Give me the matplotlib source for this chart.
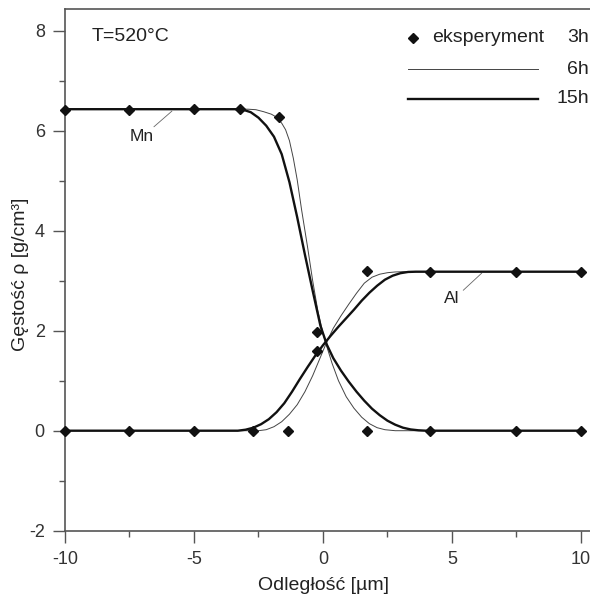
import matplotlib
matplotlib.use("Agg")
import matplotlib.pyplot as plt
from matplotlib.lines import Line2D

plt.rcParams['font.family'] = ['Liberation Sans', 'DejaVu Sans']

# experimental points (3h)
mn_exp_x = [-10, -7.5, -5, -3.2, -1.7, -0.25, 1.7, 4.15, 7.5, 10]
mn_exp_y = [6.42, 6.42, 6.43, 6.43, 6.27, 1.97, 0.0, 0.0, 0.0, 0.0]
al_exp_x = [-10, -7.5, -5, -2.7, -1.35, -0.25, 1.7, 4.15, 7.5, 10]
al_exp_y = [0.0, 0.0, 0.0, 0.0, 0.0, 1.6, 3.19, 3.18, 3.18, 3.18]

# model 6h (thin)
mn6_x = [-10, -2.9, -2.6, -2.3, -2.0, -1.8, -1.6, -1.45, -1.3, -1.15, -1.0, -0.83, -0.6, -0.4,
         -0.2, 0.0, 0.15, 0.35, 0.6, 0.9, 1.2, 1.5, 1.8, 2.1, 2.4, 2.8, 10]
mn6_y = [6.43, 6.43, 6.42, 6.38, 6.33, 6.27, 6.15, 6.02, 5.8, 5.45, 5.02, 4.42, 3.68, 3.0,
         2.4, 1.95, 1.68, 1.35, 1.0, 0.68, 0.45, 0.27, 0.14, 0.06, 0.02, 0.0, 0.0]
al6_x = [-10, -2.5, -2.2, -1.9, -1.6, -1.3, -1.0, -0.7, -0.4, -0.1, 0.15, 0.4, 0.7, 1.0, 1.3,
         1.6, 1.9, 2.2, 2.5, 2.8, 3.1, 10]
al6_y = [0.0, 0.0, 0.02, 0.08, 0.18, 0.33, 0.52, 0.78, 1.1, 1.47, 1.78, 2.05, 2.3, 2.53, 2.75,
         2.95, 3.07, 3.13, 3.16, 3.175, 3.18, 3.18]

# model 15h (thick)
mn15_x = [-10, -3.4, -3.1, -2.8, -2.5, -2.2, -1.9, -1.6, -1.3, -1.0, -0.7, -0.4, -0.1, 0.15,
          0.4, 0.7, 1.0, 1.3, 1.6, 1.9, 2.2, 2.5, 2.8, 3.1, 3.4, 3.7, 4.0, 10]
mn15_y = [6.43, 6.43, 6.42, 6.37, 6.26, 6.1, 5.88, 5.53, 4.97, 4.27, 3.52, 2.8, 2.1, 1.72,
          1.45, 1.2, 0.98, 0.78, 0.6, 0.44, 0.31, 0.2, 0.12, 0.06, 0.025, 0.008, 0.0, 0.0]
al15_x = [-10, -3.3, -3.0, -2.7, -2.4, -2.1, -1.8, -1.5, -1.2, -0.9, -0.6, -0.3, 0.0, 0.3,
          0.6, 0.9, 1.2, 1.5, 1.8, 2.1, 2.4, 2.7, 3.0, 3.3, 3.6, 10]
al15_y = [0.0, 0.0, 0.02, 0.06, 0.13, 0.23, 0.37, 0.55, 0.78, 1.03, 1.27, 1.5, 1.71, 1.9,
          2.08, 2.25, 2.42, 2.6, 2.76, 2.9, 3.02, 3.1, 3.15, 3.175, 3.18, 3.18]

x_major = [-10, -5, 0, 5, 10]
x_minor = [-7.5, -2.5, 2.5, 7.5]
y_major = [-2, 0, 2, 4, 6, 8]
y_minor = [-1, 1, 3, 5, 7]

fig = plt.figure(figsize=(5.9, 5.96), dpi=100)
ax = fig.add_axes([65/590, 1 - 530.7/596, 1 - 65/590, (530.7 - 8.5)/596])

thin_c = '#444444'
ax.plot(mn6_x, mn6_y, color=thin_c, lw=0.7, zorder=2, solid_joinstyle='round')
ax.plot(al6_x, al6_y, color=thin_c, lw=0.7, zorder=2, solid_joinstyle='round')
ax.plot(mn15_x, mn15_y, color='#111111', lw=1.7, zorder=3, solid_joinstyle='round')
ax.plot(al15_x, al15_y, color='#111111', lw=1.7, zorder=3, solid_joinstyle='round')
ax.plot(mn_exp_x, mn_exp_y, ls='none', marker='D', ms=5.5, color='#111111', zorder=4, clip_on=False)
ax.plot(al_exp_x, al_exp_y, ls='none', marker='D', ms=5.5, color='#111111', zorder=4, clip_on=False)

ax.set_xlim(-10, 10.35)
ax.set_ylim(-2, 8.444)
ax.set_xticks(x_major)
ax.set_xticklabels(['-10', '-5', '0', '5', '10'])
ax.set_xticks(x_minor, minor=True)
ax.set_yticks(y_major)
ax.set_yticklabels(['-2', '0', '2', '4', '6', '8'])
ax.set_yticks(y_minor, minor=True)

spine_c = '#555555'
for s in ['left', 'bottom', 'top']:
    ax.spines[s].set_color(spine_c)
    ax.spines[s].set_linewidth(1.2)
ax.spines['right'].set_visible(False)
ax.tick_params(which='major', direction='out', length=8.5, width=1.0, color=spine_c,
               labelsize=13, labelcolor='#333333', pad=6)
ax.tick_params(which='minor', direction='out', length=4.5, width=1.0, color=spine_c)

ax.set_xlabel('Odległość [µm]', fontsize=14, color='#222222')
ax.xaxis.set_label_coords((323 - 65)/525, -(585 - 530.7)/522.2)
ax.xaxis.label.set_va('center')
ax.set_ylabel('Gęstość ρ [g/cm³]', fontsize=14, color='#222222')
ax.yaxis.set_label_coords(-(65 - 21)/525, (530.7 - 274)/522.2)
ax.yaxis.label.set_va('center')

ax.text(0.051, 0.946, 'T=520°C', transform=ax.transAxes, fontsize=14, ha='left', va='center', color='#222222')

# element labels with leader lines
ax.text(-7.03, 5.88, 'Mn', fontsize=12.5, ha='center', va='center', color='#222222')
ax.plot([-6.55, -5.86], [6.08, 6.39], color='#666666', lw=0.6)
ax.text(4.99, 2.65, 'Al', fontsize=12.5, ha='center', va='center', color='#222222')
ax.plot([5.44, 6.15], [2.81, 3.15], color='#666666', lw=0.6)

# legend (drawn manually)
tr = ax.transAxes
ax.add_line(Line2D([0.663], [0.944], transform=tr, marker='D', ms=5.5, color='#111111', ls='none'))
ax.text(0.700, 0.944, 'eksperyment', transform=tr, fontsize=14, ha='left', va='center', color='#222222')
ax.text(0.998, 0.944, '3h', transform=tr, fontsize=14, ha='right', va='center', color='#222222')
ax.add_line(Line2D([0.654, 0.901], [0.8836, 0.8836], transform=tr, color=thin_c, lw=0.7))
ax.text(0.998, 0.8836, '6h', transform=tr, fontsize=14, ha='right', va='center', color='#222222')
ax.add_line(Line2D([0.654, 0.901], [0.8267, 0.8267], transform=tr, color='#111111', lw=1.7))
ax.text(0.998, 0.8267, '15h', transform=tr, fontsize=14, ha='right', va='center', color='#222222')

fig.savefig('out.png', dpi=100)
